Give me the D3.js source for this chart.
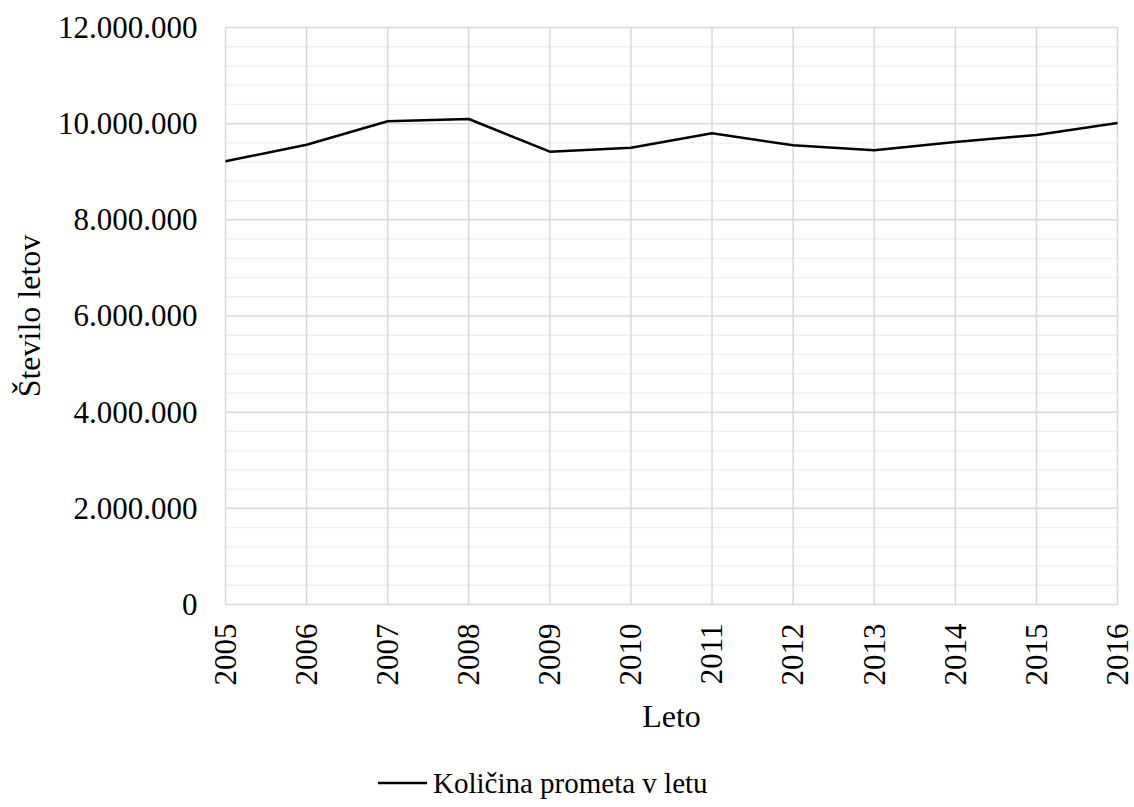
<!DOCTYPE html>
<html>
<head>
<meta charset="utf-8">
<script src="https://cdn.jsdelivr.net/npm/d3@7"></script>
<style>
  html, body { margin: 0; padding: 0; background: #ffffff; }
  svg { display: block; font-family: "Liberation Serif", "Times New Roman", serif; }
</style>
</head>
<body>
<svg id="chart" width="1134" height="807"></svg>
<script>
// Air traffic per year (number of flights)
const years = ["2005", "2006", "2007", "2008", "2009", "2010", "2011", "2012", "2013", "2014", "2015", "2016"];
const flights = [9217000, 9563000, 10049000, 10097000, 9417000, 9500000, 9800000, 9550000, 9446000, 9619000, 9764000, 10014000];
const yTicks = [0, 2000000, 4000000, 6000000, 8000000, 10000000, 12000000];
const seriesName = "Količina prometa v letu";
const xTitle = "Leto";
const yTitle = "Število letov";

const svg = d3.select("#chart");
const plotL = 225.5, plotR = 1117.5, plotT = 27.5, plotB = 604.5;

const x = d3.scalePoint().domain(years).range([plotL, plotR]);
const y = d3.scaleLinear().domain([0, 12000000]).range([plotB, plotT]);

// dotted thousands separator
const fmt = d3.formatLocale({ decimal: ",", thousands: ".", grouping: [3], currency: ["", " €"] }).format(",d");

// minor horizontal gridlines
const minor = d3.range(0, 12000001, 400000).filter(v => v % 2000000 !== 0);
svg.append("g").selectAll("line").data(minor).join("line")
  .attr("x1", plotL).attr("x2", plotR)
  .attr("y1", d => y(d)).attr("y2", d => y(d))
  .attr("stroke", "#f0f0f0").attr("stroke-width", 1.3);

// major horizontal gridlines
svg.append("g").selectAll("line").data(yTicks).join("line")
  .attr("x1", plotL).attr("x2", plotR)
  .attr("y1", d => y(d)).attr("y2", d => y(d))
  .attr("stroke", "#d9d9d9").attr("stroke-width", 1.5);

// vertical gridlines per year
svg.append("g").selectAll("line").data(years).join("line")
  .attr("x1", d => x(d)).attr("x2", d => x(d))
  .attr("y1", plotT).attr("y2", plotB)
  .attr("stroke", "#d9d9d9").attr("stroke-width", 1.5);

// y axis labels
const yAxis = d3.axisLeft(y).tickValues(yTicks).tickFormat(d => fmt(d)).tickSize(0).tickPadding(28);
const gy = svg.append("g").attr("transform", `translate(${plotL},0)`).call(yAxis);
gy.select(".domain").remove();
gy.selectAll("text").attr("font-size", 31).attr("fill", "#000")
  .attr("font-family", "Liberation Serif, Times New Roman, serif");

// x axis labels (rotated)
const xAxis = d3.axisBottom(x).tickSize(0).tickPadding(0);
const gx = svg.append("g").attr("transform", `translate(0,${plotB})`).call(xAxis);
gx.select(".domain").remove();
gx.selectAll("text")
  .attr("font-size", 31).attr("fill", "#000")
  .attr("font-family", "Liberation Serif, Times New Roman, serif")
  .attr("transform", "rotate(-90)")
  .attr("text-anchor", "end")
  .attr("x", -19).attr("y", -1).attr("dy", "0.35em");

// data line
const line = d3.line().x((d, i) => x(years[i])).y(d => y(d));
svg.append("path").datum(flights)
  .attr("d", line)
  .attr("fill", "none").attr("stroke", "#000").attr("stroke-width", 2.5)
  .attr("stroke-linejoin", "round");

// axis titles
svg.append("text").attr("x", (plotL + plotR) / 2).attr("y", 727)
  .attr("text-anchor", "middle").attr("font-size", 32).text(xTitle);
svg.append("text")
  .attr("transform", `translate(40,${(plotT + plotB) / 2}) rotate(-90)`)
  .attr("text-anchor", "middle").attr("font-size", 32).text(yTitle);

// legend
const lg = svg.append("g");
lg.append("line").attr("x1", 378).attr("x2", 427).attr("y1", 783).attr("y2", 783)
  .attr("stroke", "#000").attr("stroke-width", 2.5);
lg.append("text").attr("x", 433).attr("y", 793).attr("font-size", 29).text(seriesName);
</script>
</body>
</html>
